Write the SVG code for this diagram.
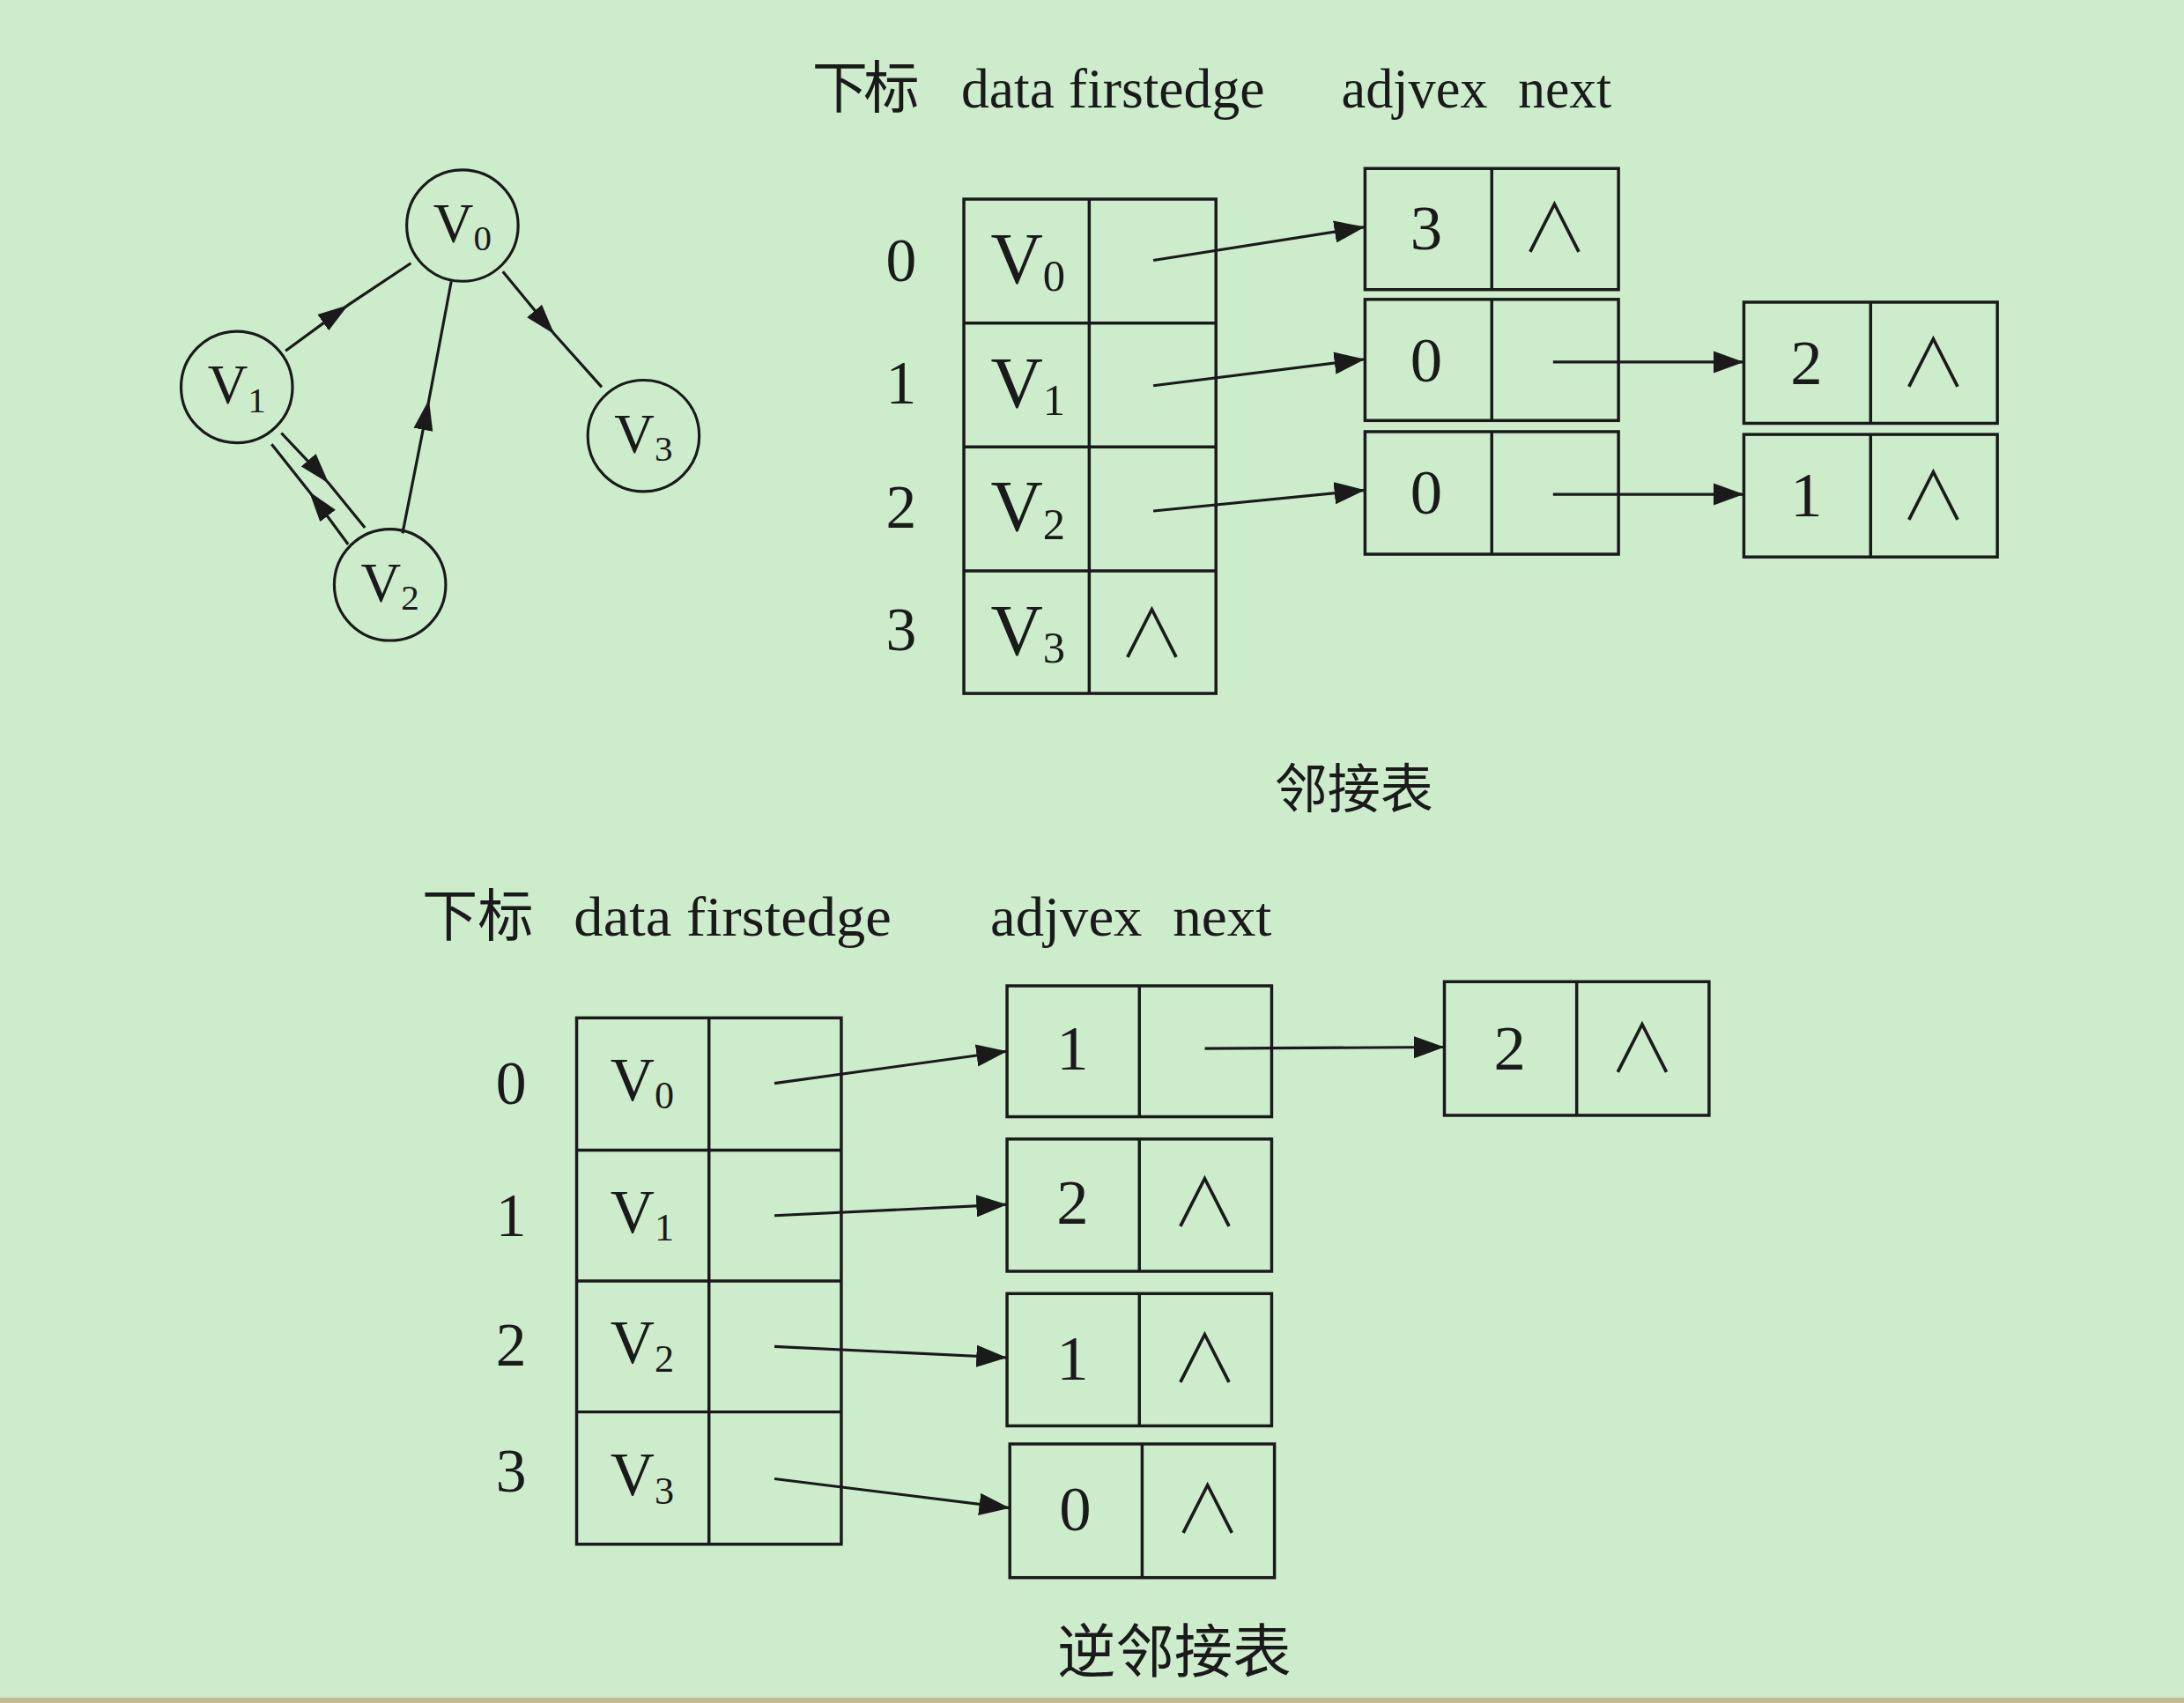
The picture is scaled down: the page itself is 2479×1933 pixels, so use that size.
<svg xmlns="http://www.w3.org/2000/svg" width="2479" height="1933" viewBox="0 0 2479 1933">
<style>
.bg{fill:#cdeccb}
.box{fill:none;stroke:#1a1a1a;stroke-width:2.2}
.edge{fill:none;stroke:#1a1a1a;stroke-width:2}
.circ{fill:none;stroke:#1a1a1a;stroke-width:2}
text{font-family:"Liberation Serif","Noto Sans CJK SC",serif;fill:#1a1a1a;text-anchor:middle}
.hdr{font-size:40px;text-anchor:start}
.cjk{font-family:"Noto Sans CJK SC","Liberation Serif",serif}
.idx{font-size:44px}
.vt{font-size:52px}
.vb{font-size:44px}
.num{font-size:46px}
.nil{font-family:"Noto Sans CJK SC","DejaVu Sans",sans-serif;font-size:48px;font-weight:300}
.gv{font-size:40px}
</style>
<defs>
<marker id="ah" markerUnits="userSpaceOnUse" markerWidth="24" markerHeight="16" refX="22" refY="8" orient="auto">
<path d="M0,0 L22,8 L0,16 z" fill="#1a1a1a"/>
</marker>
<marker id="ahs" markerUnits="userSpaceOnUse" markerWidth="24" markerHeight="16" refX="22" refY="8" orient="auto">
<path d="M0,1 L22,8 L0,15 z" fill="#1a1a1a"/>
</marker>
</defs>
<rect class="bg" x="0" y="0" width="2479" height="1933"/>
<rect x="0" y="1927" width="2479" height="6" fill="#c9b98f"/>
<g transform="scale(1.581,1.5805)">
<g id="graph-edges">
<path class="edge" d="M205,252 L250,219 L295,189" marker-mid="url(#ahs)"/>
<path class="edge" d="M361,195 L398,240 L432,278" marker-mid="url(#ahs)"/>
<path class="edge" d="M289,383 L308,287 L324,202" marker-mid="url(#ahs)"/>
<path class="edge" d="M202,311 L236,347 L262,379" marker-mid="url(#ahs)"/>
<path class="edge" d="M250,391 L222,353 L195,319" marker-mid="url(#ahs)"/>
</g>
<g id="gv0"><circle class="circ" cx="332" cy="162" r="40"/><text class="gv" x="332" y="174">V<tspan font-size="26" dy="6">0</tspan></text></g>
<g id="gv1"><circle class="circ" cx="170" cy="278" r="40"/><text class="gv" x="170" y="290">V<tspan font-size="26" dy="6">1</tspan></text></g>
<g id="gv2"><circle class="circ" cx="280" cy="420" r="40"/><text class="gv" x="280" y="432">V<tspan font-size="26" dy="6">2</tspan></text></g>
<g id="gv3"><circle class="circ" cx="462" cy="313" r="40"/><text class="gv" x="462" y="325">V<tspan font-size="26" dy="6">3</tspan></text></g>

<g id="top-header">
<text class="hdr cjk" x="583" y="77" font-size="38" textLength="77">下标</text>
<text class="hdr" x="690" y="77" textLength="218" lengthAdjust="spacingAndGlyphs">data firstedge</text>
<text class="hdr" x="963" y="77" textLength="105" lengthAdjust="spacingAndGlyphs">adjvex</text>
<text class="hdr" x="1090" y="77" textLength="67" lengthAdjust="spacingAndGlyphs">next</text>
</g>
<g id="top-vertex-table">
<rect class="box" x="692" y="143" width="181" height="355"/>
<line class="box" x1="782" y1="143" x2="782" y2="498"/>
<line class="box" x1="692" y1="232" x2="873" y2="232"/>
<line class="box" x1="692" y1="321" x2="873" y2="321"/>
<line class="box" x1="692" y1="410" x2="873" y2="410"/>
<text class="idx" x="647" y="202">0</text>
<text class="idx" x="647" y="290">1</text>
<text class="idx" x="647" y="379">2</text>
<text class="idx" x="647" y="467">3</text>
<text class="vt" x="738" y="203">V<tspan font-size="32" dy="6">0</tspan></text>
<text class="vt" x="738" y="292">V<tspan font-size="32" dy="6">1</tspan></text>
<text class="vt" x="738" y="381">V<tspan font-size="32" dy="6">2</tspan></text>
<text class="vt" x="738" y="470">V<tspan font-size="32" dy="6">3</tspan></text>
<text class="nil" x="827" y="472">∧</text>
</g>
<g id="top-e0"><rect class="box" x="980" y="121" width="182" height="87"/><line class="box" x1="1071" y1="121" x2="1071" y2="208"/><text class="num" x="1024" y="179">3</text><text class="nil" x="1116" y="181">∧</text></g>
<g id="top-e1"><rect class="box" x="980" y="215" width="182" height="87"/><line class="box" x1="1071" y1="215" x2="1071" y2="302"/><text class="num" x="1024" y="274">0</text></g>
<g id="top-e2"><rect class="box" x="980" y="310" width="182" height="88"/><line class="box" x1="1071" y1="310" x2="1071" y2="398"/><text class="num" x="1024" y="369">0</text></g>
<g id="top-e3"><rect class="box" x="1252" y="217" width="182" height="87"/><line class="box" x1="1343" y1="217" x2="1343" y2="304"/><text class="num" x="1297" y="276">2</text><text class="nil" x="1388" y="278">∧</text></g>
<g id="top-e4"><rect class="box" x="1252" y="312" width="182" height="88"/><line class="box" x1="1343" y1="312" x2="1343" y2="400"/><text class="num" x="1297" y="371">1</text><text class="nil" x="1388" y="373">∧</text></g>
<text class="cjk" x="972" y="580" font-size="38">邻接表</text>

<g id="bottom-header">
<text class="hdr cjk" x="303" y="672" font-size="40" textLength="80">下标</text>
<text class="hdr" x="412" y="672" textLength="228" lengthAdjust="spacingAndGlyphs">data firstedge</text>
<text class="hdr" x="711" y="672" textLength="109" lengthAdjust="spacingAndGlyphs">adjvex</text>
<text class="hdr" x="842" y="672" textLength="71" lengthAdjust="spacingAndGlyphs">next</text>
</g>
<g id="bottom-vertex-table">
<rect class="box" x="414" y="731" width="190" height="378"/>
<line class="box" x1="509" y1="731" x2="509" y2="1109"/>
<line class="box" x1="414" y1="826" x2="604" y2="826"/>
<line class="box" x1="414" y1="920" x2="604" y2="920"/>
<line class="box" x1="414" y1="1014" x2="604" y2="1014"/>
<text class="idx" x="367" y="793">0</text>
<text class="idx" x="367" y="888">1</text>
<text class="idx" x="367" y="981">2</text>
<text class="idx" x="367" y="1071">3</text>
<text class="vb" x="461" y="790">V<tspan font-size="28" dy="6">0</tspan></text>
<text class="vb" x="461" y="885">V<tspan font-size="28" dy="6">1</tspan></text>
<text class="vb" x="461" y="979">V<tspan font-size="28" dy="6">2</tspan></text>
<text class="vb" x="461" y="1074">V<tspan font-size="28" dy="6">3</tspan></text>
</g>
<g id="bot-e0"><rect class="box" x="723" y="708" width="190" height="94"/><line class="box" x1="818" y1="708" x2="818" y2="802"/><text class="num" x="770" y="768">1</text></g>
<g id="bot-e1"><rect class="box" x="723" y="818" width="190" height="95"/><line class="box" x1="818" y1="818" x2="818" y2="913"/><text class="num" x="770" y="879">2</text><text class="nil" x="865" y="881">∧</text></g>
<g id="bot-e2"><rect class="box" x="723" y="929" width="190" height="95"/><line class="box" x1="818" y1="929" x2="818" y2="1024"/><text class="num" x="770" y="991">1</text><text class="nil" x="865" y="993">∧</text></g>
<g id="bot-e3"><rect class="box" x="725" y="1037" width="190" height="96"/><line class="box" x1="820" y1="1037" x2="820" y2="1133"/><text class="num" x="772" y="1099">0</text><text class="nil" x="867" y="1101">∧</text></g>
<g id="bot-e4"><rect class="box" x="1037" y="705" width="190" height="96"/><line class="box" x1="1132" y1="705" x2="1132" y2="801"/><text class="num" x="1084" y="768">2</text><text class="nil" x="1179" y="770">∧</text></g>
<text class="cjk" x="843" y="1201" font-size="42">逆邻接表</text>

<g id="connectors">
<line class="edge" x1="828" y1="187" x2="980" y2="163" marker-end="url(#ah)"/>
<line class="edge" x1="828" y1="277" x2="980" y2="258" marker-end="url(#ah)"/>
<line class="edge" x1="828" y1="367" x2="980" y2="352" marker-end="url(#ah)"/>
<line class="edge" x1="1115" y1="260" x2="1252" y2="260" marker-end="url(#ah)"/>
<line class="edge" x1="1115" y1="355" x2="1252" y2="355" marker-end="url(#ah)"/>
<line class="edge" x1="556" y1="778" x2="723" y2="755" marker-end="url(#ah)"/>
<line class="edge" x1="556" y1="873" x2="723" y2="865" marker-end="url(#ah)"/>
<line class="edge" x1="556" y1="967" x2="723" y2="975" marker-end="url(#ah)"/>
<line class="edge" x1="556" y1="1062" x2="725" y2="1083" marker-end="url(#ah)"/>
<line class="edge" x1="865" y1="753" x2="1037" y2="752" marker-end="url(#ah)"/>
</g>
</g>
</svg>
